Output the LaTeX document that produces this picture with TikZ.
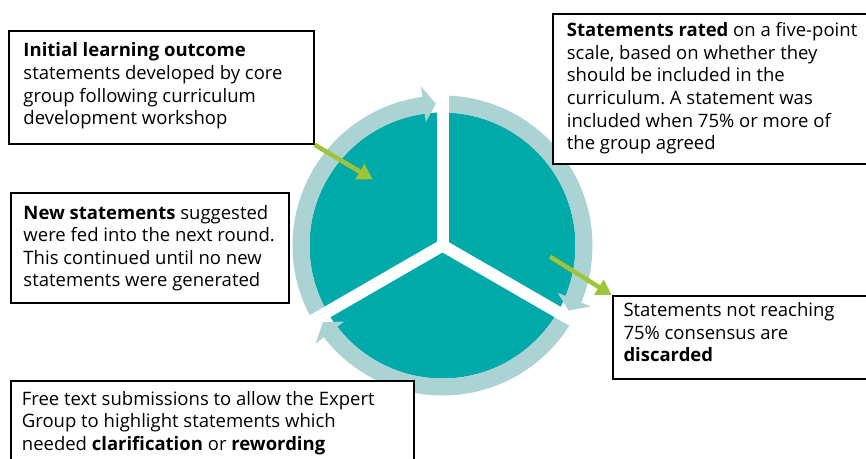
\documentclass[tikz,border=0pt]{standalone}
\usepackage{fontspec}
\setmainfont{Open Sans}
\usetikzlibrary{arrows.meta}
\frenchspacing
\definecolor{disk}{HTML}{00AAA9}
\definecolor{ringc}{HTML}{ABD3D4}
\definecolor{leaf}{HTML}{9EC53A}
\tikzset{
  box/.style={draw=black, line width=1.8pt, fill=white, anchor=north west, inner sep=0pt},
  txt/.style={anchor=base west, align=left, inner sep=0pt, font=\fontsize{18.5}{22.6}\selectfont},
  greenarrow/.style={draw=leaf, line width=4.5pt, -{Triangle[length=15pt, width=17pt]}},
  ringarrow/.style={fill=ringc},
  gapbar/.style={fill=white}
}
\newcommand{\ringarrowpath}[3]{% start, head base, tip
  \fill[ringarrow] (#1:150) arc[start angle=#1, end angle=#2, radius=150]
    -- (#2:160.5) -- (#3:142) -- (#2:124.5) -- (#2:133)
    arc[start angle=#2, end angle=#1, radius=133] -- cycle;}
\begin{document}
\begin{tikzpicture}[x=1pt,y=1pt]
\useasboundingbox (-442.5,-212.5) rectangle (423.5,245.5);
\fill[white] (-442.5,-212.5) rectangle (423.5,245.5);
% disk
\fill[disk] (0,0) circle[radius=133];
% circular arrows
\ringarrowpath{210}{97.7}{92.7}
\ringarrowpath{90}{-22.3}{-27.3}
\ringarrowpath{-30}{-142.3}{-147.3}
% gaps
\foreach \a in {90,-30,210}{
  \fill[gapbar, rotate=\a] (0,-6) rectangle (172,6);
}
% boxes
\node[box, minimum width=305pt, minimum height=113pt] (b1) at (-434.5,215.5) {};
\node[box, minimum width=320pt, minimum height=150pt] (b2) at (109.2,232.2) {};
\node[box, minimum width=278.3pt, minimum height=110.3pt] (b3) at (-432.5,53.8) {};
\node[box, minimum width=403.3pt, minimum height=90pt] (b4) at (-432.5,-134.5) {};
\node[box, minimum width=320pt, minimum height=83.3pt] (b5) at (169.2,-49.5) {};
% texts (anchored at the baseline of the last line)
\node[txt] (t1) at (-419.2,120.7) {\textbf{Initial learning outcome}\\statements developed by core\\group following curriculum\\development workshop};
\node[txt] (t2) at (124.2,95.8) {\textbf{Statements rated} on a five-point\\scale, based on whether they\\should be included in the\\curriculum. A statement was\\included when 75\% or more of\\the group agreed};
\node[txt] (t3) at (-419.2,-41.3) {\textbf{New statements} suggested\\were fed into the next round.\\This continued until no new\\statements were generated};
\node[txt] (t4) at (-420.8,-204.7) {Free text submissions to allow the Expert\\Group to highlight statements which\\needed \textbf{clarification} or \textbf{rewording}};
\node[txt] (t5) at (180.8,-116.4) {Statements not reaching\\75\% consensus are\\\textbf{discarded}};
% green arrows
\coordinate (g1) at (-69.8,66.2);
\coordinate (g2) at (107.5,-11.2);
\draw[greenarrow] (b1.south east) -- (g1);
\draw[greenarrow] (g2) -- (b5.north west);
\end{tikzpicture}
\end{document}
